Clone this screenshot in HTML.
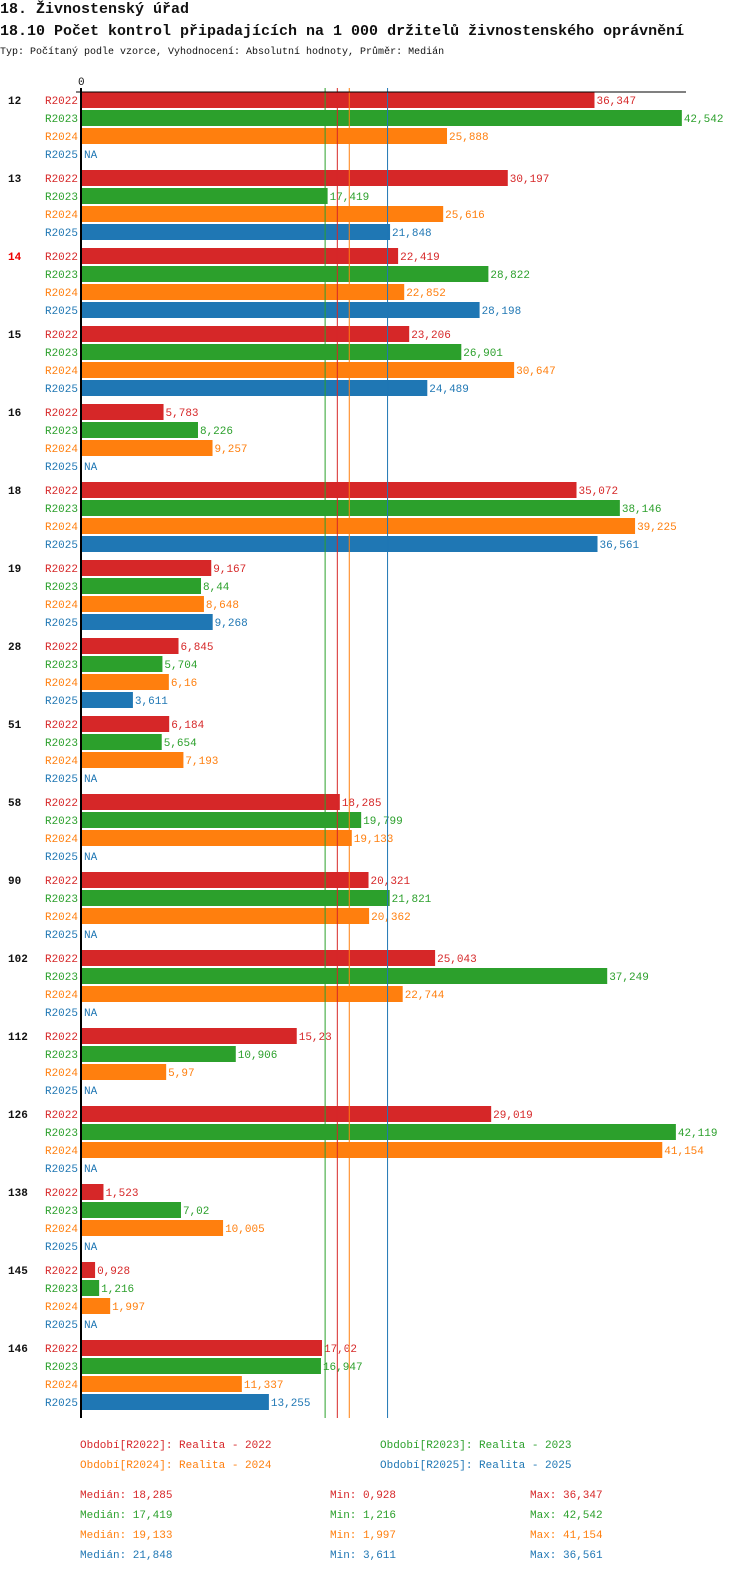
<!DOCTYPE html>
<html><head><meta charset="utf-8"><style>
body{margin:0;background:#fff;width:750px;height:1568px;overflow:hidden;font-family:"Liberation Mono",monospace;}
svg text{font-family:"Liberation Mono",monospace;}
</style></head><body>
<svg id="c" width="750" height="1568" xmlns="http://www.w3.org/2000/svg">
<text x="0" y="13" font-size="15" font-weight="bold" fill="#111">18. Živnostenský úřad</text>
<text x="0" y="35" font-size="15" font-weight="bold" fill="#111">18.10 Počet kontrol připadajících na 1 000 držitelů živnostenského oprávnění</text>
<text x="0" y="54" font-size="10" fill="#111">Typ: Počítaný podle vzorce, Vyhodnocení: Absolutní hodnoty, Průměr: Medián</text>
<g id="plot"></g>
<g id="legend">
<text x="80" y="1448" font-size="11" fill="#d62728">Období[R2022]: Realita - 2022</text>
<text x="380" y="1448" font-size="11" fill="#2ca02c">Období[R2023]: Realita - 2023</text>
<text x="80" y="1468" font-size="11" fill="#ff7f0e">Období[R2024]: Realita - 2024</text>
<text x="380" y="1468" font-size="11" fill="#1f77b4">Období[R2025]: Realita - 2025</text>
</g>
<g id="stats"></g>
</svg>
<script>
const categories=["12","13","14","15","16","18","19","28","51","58","90","102","112","126","138","145","146"];
const series=["R2022","R2023","R2024","R2025"];
const colors=["#d62728","#2ca02c","#ff7f0e","#1f77b4"];
const r2022=[36.347,30.197,22.419,23.206,5.783,35.072,9.167,6.845,6.184,18.285,20.321,25.043,15.23,29.019,1.523,0.928,17.02];
const r2023=[42.542,17.419,28.822,26.901,8.226,38.146,8.44,5.704,5.654,19.799,21.821,37.249,10.906,42.119,7.02,1.216,16.947];
const r2024=[25.888,25.616,22.852,30.647,9.257,39.225,8.648,6.16,7.193,19.133,20.362,22.744,5.97,41.154,10.005,1.997,11.337];
const r2025=[null,21.848,28.198,24.489,null,36.561,9.268,3.611,null,null,null,null,null,null,null,null,13.255];
const medians=[18.285,17.419,19.133,21.848];
const mins=[0.928,1.216,1.997,3.611];
const maxs=[36.347,42.542,41.154,36.561];
const highlight="14";
const data=[r2022,r2023,r2024,r2025];
const NS="http://www.w3.org/2000/svg";
const x0=82,scale=14.1;
const xs=v=>x0+v*scale;
const ys=(g,s)=>92+g*78+s*18;
const fmt=v=>String(v).replace('.',',');
const plot=document.getElementById('plot');
function mk(tag,attrs,parent,txt){const e=document.createElementNS(NS,tag);for(const k in attrs)e.setAttribute(k,attrs[k]);if(txt!=null)e.textContent=txt;parent.appendChild(e);return e;}
const yEnd=1418;
categories.forEach((c,g)=>{
  const gl=mk('text',{x:8,y:ys(g,0)+12,'font-size':11,'font-weight':'bold',fill:c===highlight?'#e00':'#111'},plot,c);
  
  
  series.forEach((s,i)=>{
    const y=ys(g,i);
    const sl=mk('text',{x:78,y:y+12,'font-size':11,fill:colors[i],'text-anchor':'end'},plot,s);
    
    
    const v=data[i][g];
    if(v==null){
      const na=mk('text',{x:84,y:y+12,'font-size':11,fill:colors[i]},plot,'NA');
      
      
    }else{
      const b=mk('rect',{x:x0,y:y,width:v*scale,height:16,fill:colors[i]},plot);
      
      
      const vl=mk('text',{x:xs(v)+2,y:y+12,'font-size':11,fill:colors[i]},plot,fmt(v));
      
      
    }
  });
});
medians.forEach((m,i)=>{
  const l=mk('line',{x1:xs(m)-2.5,x2:xs(m)-2.5,y1:88,y2:yEnd,stroke:colors[i],'stroke-width':1},plot);
  
  
});
const ax=mk('line',{x1:81,x2:81,y1:88,y2:yEnd,stroke:'#000','stroke-width':2},plot);


const tx=mk('line',{x1:76,x2:686,y1:92,y2:92,stroke:'#000','stroke-width':1},plot);


const t0=mk('text',{x:78,y:85,'font-size':11,fill:'#111'},plot,'0');


const st=document.getElementById('stats');
series.forEach((s,i)=>{
  const y=1498+i*20;
  const a=mk('text',{x:80,y:y,'font-size':11,fill:colors[i]},st,'Medián: '+fmt(medians[i]));
  
  
  const b=mk('text',{x:330,y:y,'font-size':11,fill:colors[i]},st,'Min: '+fmt(mins[i]));
  
  
  const d=mk('text',{x:530,y:y,'font-size':11,fill:colors[i]},st,'Max: '+fmt(maxs[i]));
  
  
});
</script>
</body></html>
